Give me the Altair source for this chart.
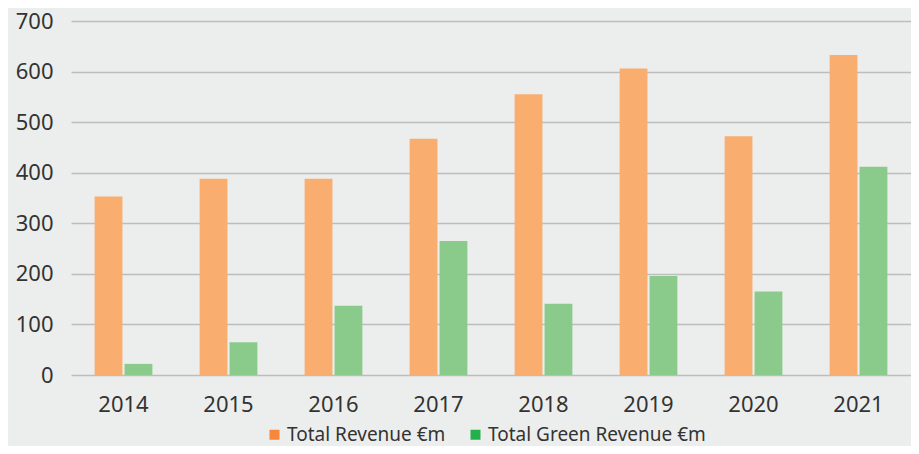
import altair as alt
import pandas as pd

years = ["2014", "2015", "2016", "2017", "2018", "2019", "2020", "2021"]
total_revenue = [353, 388, 388, 467, 555, 606, 472, 633]
green_revenue = [22, 65, 137, 265, 141, 196, 165, 412]
series_names = ["Total Revenue €m", "Total Green Revenue €m"]
bar_colors = ["#F9AE6F", "#8ACB8B"]
legend_colors = ["#F7873A", "#22B04B"]
y_ticks = [0, 100, 200, 300, 400, 500, 600, 700]

rows = []
for y, t, g in zip(years, total_revenue, green_revenue):
    rows.append({"year": y, "series": series_names[0], "value": t})
    rows.append({"year": y, "series": series_names[1], "value": g})
df = pd.DataFrame(rows)
legend_df = pd.DataFrame({"key": series_names})

FONT = "Noto Sans"
BG = "#ECEEED"

x_enc = alt.X("year:N", title=None, sort=years,
              scale=alt.Scale(paddingInner=0.45, paddingOuter=0.225),
              axis=alt.Axis(labelAngle=0, ticks=False, domain=False, labelPadding=19))
xo_enc = alt.XOffset("series:N", sort=series_names, scale=alt.Scale(paddingInner=0.07))
y_enc = alt.Y("value:Q", title=None, scale=alt.Scale(domain=[0, 700]),
              axis=alt.Axis(values=y_ticks, ticks=False, domain=False, labelPadding=18,
                            gridColor="#BDBDBD", gridWidth=1.6))

bars = alt.Chart(df).mark_bar().encode(
    x=x_enc, xOffset=xo_enc, y=y_enc,
    fill=alt.Fill("series:N", sort=series_names,
                  scale=alt.Scale(domain=series_names, range=bar_colors),
                  legend=None),
)

legend_layer = alt.Chart(legend_df).mark_square(size=0, filled=True).encode(
    x=alt.value(0), y=alt.value(0),
    color=alt.Color("key:N", sort=series_names,
                    scale=alt.Scale(domain=series_names, range=legend_colors),
                    legend=alt.Legend(
                        title=None, orient="none", direction="horizontal",
                        legendX=194, legendY=404,
                        symbolType="square", symbolSize=100, symbolStrokeWidth=0,
                        symbolOpacity=1,
                        labelFontSize=19, labelFont=FONT, labelColor="#333333",
                        columnPadding=20, labelOffset=3,
                        labelLimit=400)),
)

chart = alt.layer(bars, legend_layer).resolve_scale(color="independent").properties(
    width=840, height=354,
    background=BG,
    autosize=alt.AutoSizeParams(type="none"),
    padding={"left": 63, "top": 13, "right": 0, "bottom": 71},
).configure_view(
    stroke=None, fill=BG
).configure_axis(
    labelFont=FONT, labelFontSize=22, labelColor="#333333"
)

chart.save("out.html", embed_options={"renderer": "svg", "actions": False})
